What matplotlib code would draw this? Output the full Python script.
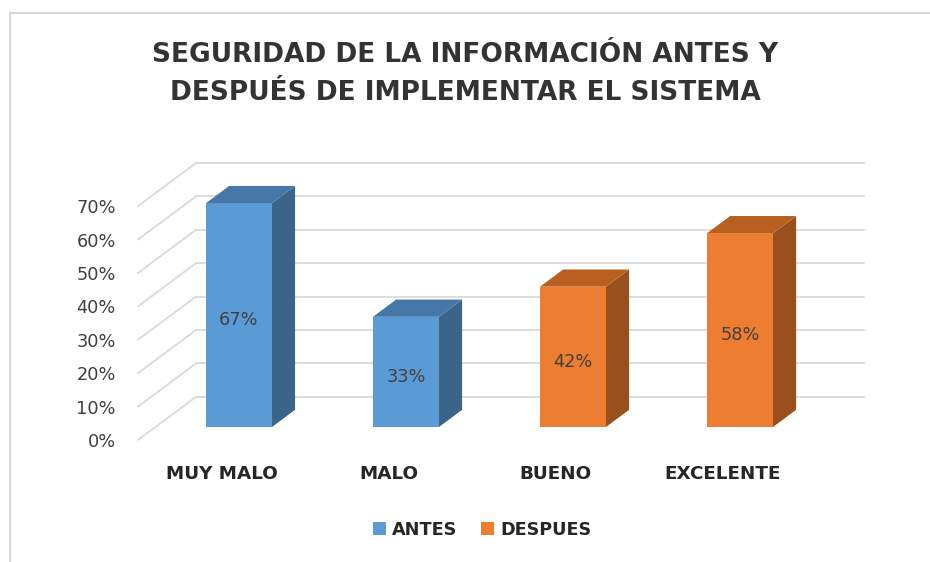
"""Seguridad de la informacion: 3D-style column chart, antes vs despues."""
import matplotlib

matplotlib.use("Agg")
import matplotlib.pyplot as plt
from matplotlib.lines import Line2D
from matplotlib.patches import Polygon, Rectangle

categories = ["MUY MALO", "MALO", "BUENO", "EXCELENTE"]
values = [67, 33, 42, 58]
series = ["ANTES", "ANTES", "DESPUES", "DESPUES"]
series_names = ["ANTES", "DESPUES"]
y_ticks = [0, 10, 20, 30, 40, 50, 60, 70]

# face colours: front, top, side
COLORS = {
    "ANTES": ("#5B9BD5", "#4577A8", "#3A6488"),
    "DESPUES": ("#ED7D31", "#B8601F", "#9A501D"),
}
GRID = "#D9D9D9"
TEXT = "#404040"
FONT = "DejaVu Sans"

# depth of the 3D box in data units (category, percent)
DX, DY = 0.347, 12.9
D0, D1 = 0.3, 0.7  # bars sit in the middle of the depth
HALF_W = 0.1975

fig = plt.figure(figsize=(9.3, 5.62), dpi=100)
W, H = 930, 562
ax = fig.add_axes([138 / W, (H - 440) / H, (864 - 138) / W, (440 - 163) / H])
ax.set_xlim(-0.5, 3.5 + DX)
ax.set_ylim(0, 70 + DY)
for s in ax.spines.values():
    s.set_visible(False)

# back wall gridlines and left-side diagonals
for p in y_ticks:
    ax.plot([-0.5 + DX, 3.5 + DX], [p + DY, p + DY], color=GRID, lw=1.3, zorder=1,
            clip_on=False)
    ax.plot([-0.5, -0.5 + DX], [p, p + DY], color=GRID, lw=1.3, zorder=1, clip_on=False)

for i, (v, s) in enumerate(zip(values, series)):
    front_c, top_c, side_c = COLORS[s]
    x0 = i - HALF_W + D0 * DX
    x1 = i + HALF_W + D0 * DX
    y0 = D0 * DY
    ddx, ddy = (D1 - D0) * DX, (D1 - D0) * DY
    ax.add_patch(Polygon([(x1, y0), (x1 + ddx, y0 + ddy), (x1 + ddx, y0 + ddy + v),
                          (x1, y0 + v)], closed=True, facecolor=side_c, edgecolor="none",
                         zorder=3))
    ax.add_patch(Polygon([(x0, y0 + v), (x1, y0 + v), (x1 + ddx, y0 + ddy + v),
                          (x0 + ddx, y0 + ddy + v)], closed=True, facecolor=top_c,
                         edgecolor="none", zorder=3))
    ax.add_patch(Rectangle((x0, y0), x1 - x0, v, facecolor=front_c, edgecolor="none",
                           zorder=4))
    ax.text((x0 + x1) / 2, y0 + v / 2 - 1.5, f"{v}%", ha="center", va="center",
            fontsize=12.8, color=TEXT, family=FONT, zorder=5)

ax.set_yticks(y_ticks)
ax.set_yticklabels([f"{t}%" for t in y_ticks], fontsize=12.8, color=TEXT, family=FONT)
ax.set_xticks(range(len(categories)))
ax.set_xticklabels(categories, fontsize=13.2, fontweight="bold", color="#262626",
                   family=FONT)
ax.tick_params(axis="y", length=0, pad=16)
ax.tick_params(axis="x", length=0, pad=18)

fig.text(0.5, (H - 74) / H,
         "SEGURIDAD DE LA INFORMACIÓN ANTES Y\nDESPUÉS DE IMPLEMENTAR EL SISTEMA",
         ha="center", va="center", fontsize=19, fontweight="bold", color="#333333",
         family=FONT, linespacing=1.6)

handles = [Rectangle((0, 0), 1, 1, facecolor=COLORS[n][0]) for n in series_names]
leg = fig.legend(handles, series_names, loc="center", bbox_to_anchor=(482 / W, (H - 530) / H),
                 ncol=2, frameon=False, handlelength=0.75, handleheight=0.75,
                 handletextpad=0.35, columnspacing=1.3,
                 prop={"family": FONT, "weight": "bold", "size": 12.7})
for t in leg.get_texts():
    t.set_color("#262626")

# chart area border (left and top edges visible)
fig.add_artist(Line2D([10 / W, 10 / W], [0, (H - 13) / H], color=GRID, lw=1.5))
fig.add_artist(Line2D([10 / W, 1], [(H - 13) / H, (H - 13) / H], color=GRID, lw=1.5))

fig.savefig("out.png", dpi=100)
